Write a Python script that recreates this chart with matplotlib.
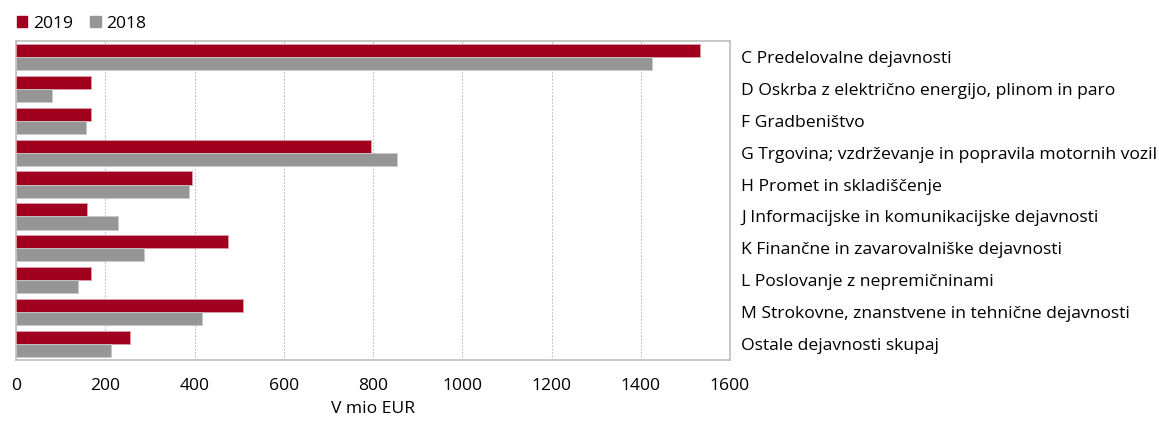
import matplotlib
matplotlib.use('Agg')
import matplotlib.pyplot as plt
import numpy as np
from matplotlib.patches import Patch

# Categories (top to bottom) and values in mio EUR
categories = [
    'C Predelovalne dejavnosti',
    'D Oskrba z električno energijo, plinom in paro',
    'F Gradbeništvo',
    'G Trgovina; vzdrževanje in popravila motornih vozil',
    'H Promet in skladiščenje',
    'J Informacijske in komunikacijske dejavnosti',
    'K Finančne in zavarovalniške dejavnosti',
    'L Poslovanje z nepremičninami',
    'M Strokovne, znanstvene in tehnične dejavnosti',
    'Ostale dejavnosti skupaj',
]
values_2019 = [1533, 169, 169, 795, 395, 159, 476, 167, 508, 256]
values_2018 = [1426, 80, 156, 854, 388, 228, 287, 140, 417, 214]
xticks = [0, 200, 400, 600, 800, 1000, 1200, 1400, 1600]

red = '#A0001E'
grey = '#969696'

plt.rcParams['font.family'] = ['Open Sans', 'DejaVu Sans']
plt.rcParams['font.size'] = 12.6

fig = plt.figure(figsize=(11.59, 4.21), dpi=100)
ax = fig.add_axes([16 / 1159, 1 - 360 / 421, (730 - 16) / 1159, (360 - 41) / 421])

y = np.arange(len(categories))
h = 0.41
ax.barh(y - h / 2, values_2019, height=h, color=red, edgecolor='#d9a0ab', linewidth=0.6, zorder=3)
ax.barh(y + h / 2, values_2018, height=h, color=grey, edgecolor='#c8c8c8', linewidth=0.6, zorder=3)

ax.set_ylim(len(categories) - 0.5, -0.5)
ax.set_xlim(0, 1600)
ax.set_xticks(xticks)
ax.set_xticklabels([str(t) for t in xticks])
ax.tick_params(axis='x', length=0, pad=13)
ax.set_xlabel('V mio EUR', labelpad=5)

ax.yaxis.tick_right()
ax.set_yticks(y)
ax.set_yticklabels(categories)
ax.tick_params(axis='y', length=0, pad=8)

ax.grid(axis='x', color='#bdbdbd', linestyle=(0, (1.5, 1.5)), linewidth=0.8, zorder=0)
for s in ax.spines.values():
    s.set_color('#bfbfbf')
    s.set_linewidth(1.2)

handles = [Patch(color=red, label='2019'), Patch(color=grey, label='2018')]
fig.legend(handles=handles, loc='upper left', bbox_to_anchor=(0.001, 1.0), ncol=2,
           frameon=False, handlelength=0.6, handleheight=0.6, handletextpad=0.3,
           columnspacing=1.0)

fig.savefig('out.png', dpi=100)
